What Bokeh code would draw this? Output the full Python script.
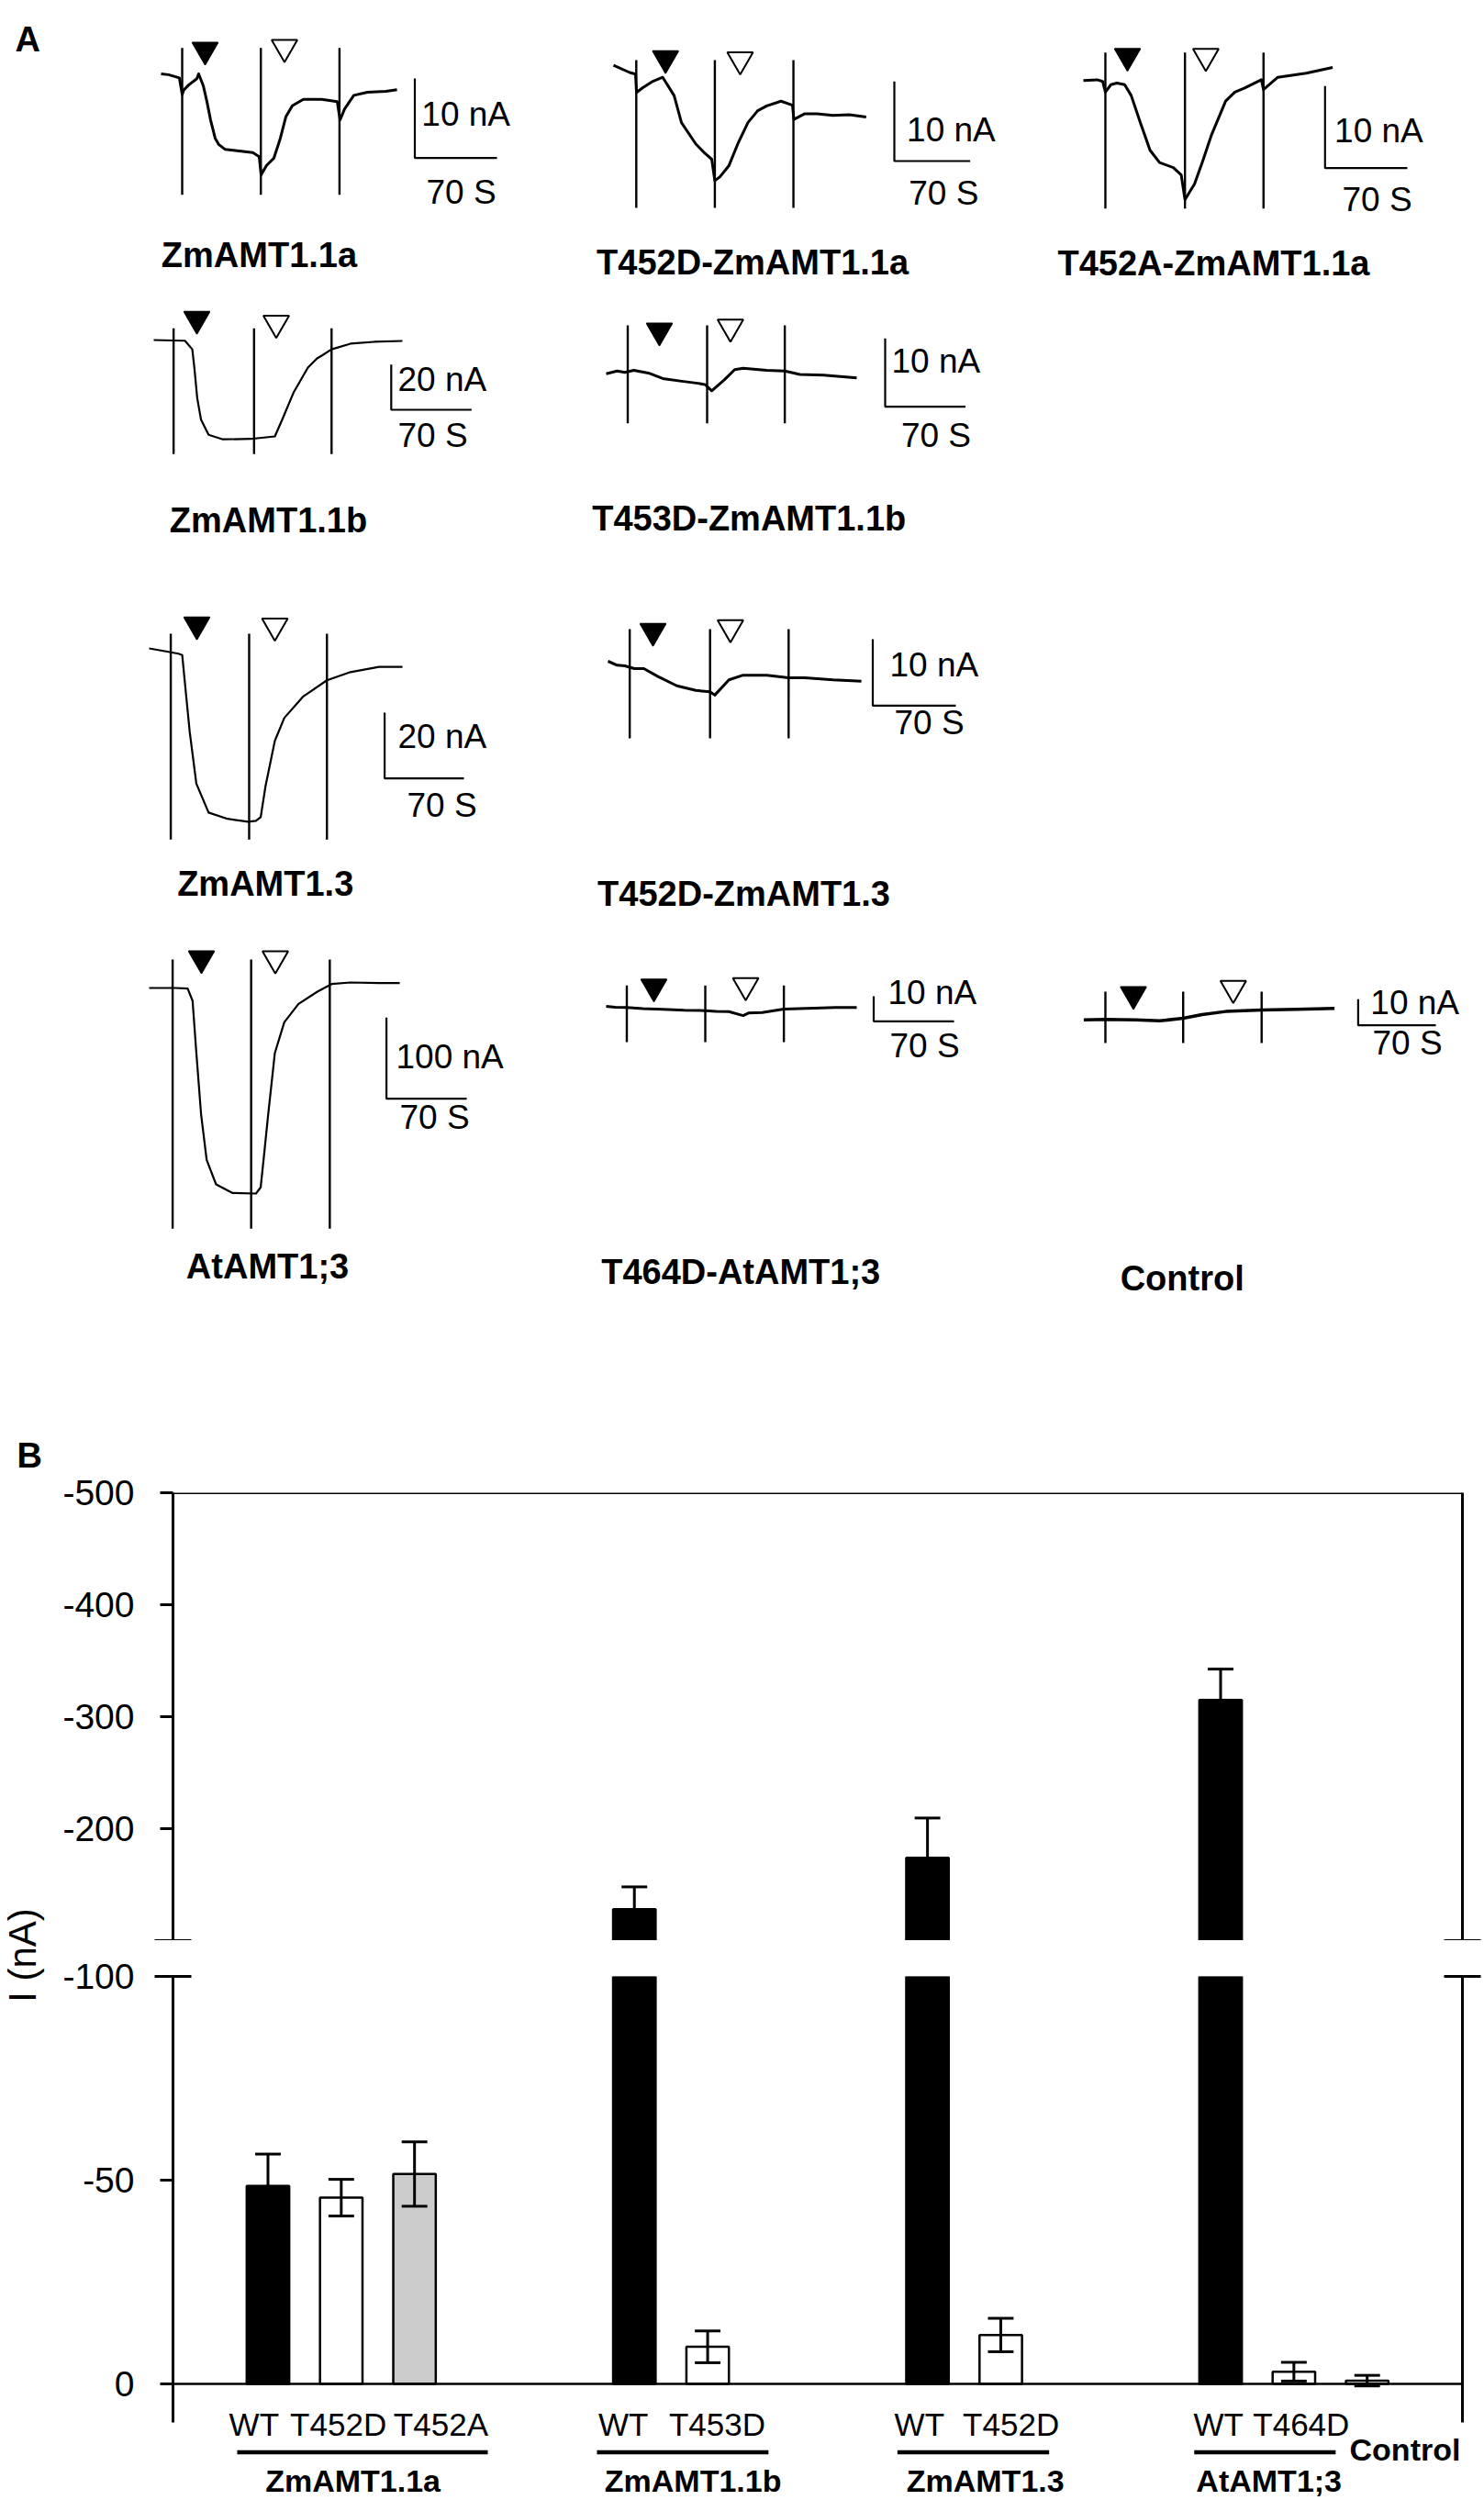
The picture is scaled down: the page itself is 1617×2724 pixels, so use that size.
import math
from bokeh.plotting import figure
from bokeh.layouts import column, row, Spacer
from bokeh.models import (Range1d, FixedTicker, LinearAxis, Span, ColumnDataSource,
                          CustomJSTickFormatter)
from bokeh.core.properties import value
from bokeh.embed import file_html
from bokeh.resources import INLINE

FONT = value("Liberation Sans")

# ---------------- Panel A : current recordings (time in s, current in nA) ----------------
TRACE_NAMES = ["ZmAMT1.1a", "T452D-ZmAMT1.1a", "T452A-ZmAMT1.1a",
               "ZmAMT1.1b", "T453D-ZmAMT1.1b",
               "ZmAMT1.3", "T452D-ZmAMT1.3",
               "AtAMT1;3", "T464D-AtAMT1;3", "Control"]
SCALE_NA = [10, 10, 10, 20, 10, 20, 10, 100, 10, 10]
SCALE_S = 70

ZM11A_T = [0, 6.3, 15.6, 18, 19.5, 23.5, 30.5, 32, 36, 39.1, 42.2, 46.1, 49.3, 54.7, 66.5, 78.2,
           83.6, 85.2, 89.9, 96.1, 101.6, 106.3, 111.8, 121.2, 136.8, 150.1, 152.5, 156.4,
           164.2, 175.9, 191.6, 201]
ZM11A_I = [0, -0.1, -0.5, -2.6, -2.0, -1.4, -0.6, 0, -1.5, -3.5, -5.8, -8.1, -8.9, -9.5, -9.7,
           -9.9, -10.4, -12.7, -11.5, -10.6, -8.1, -5.4, -4.0, -3.2, -3.2, -3.5, -5.8, -4.4,
           -2.7, -2.3, -2.2, -2.0]
ZM11A_EV = [18, 85, 152]

T452D11A_T = [0, 14.9, 20.3, 21.2, 27.1, 36.4, 45.4, 55.9, 62.7, 76, 84.7, 90.6, 93.5, 98.2,
              106.5, 115.2, 124, 133, 141.4, 154.5, 165.1, 166.4, 176.1, 188, 202.4, 217.6, 233.1]
T452D11A_I = [0, -0.9, -1.1, -3.4, -2.8, -2.0, -1.5, -3.8, -7.2, -9.9, -11.1, -11.8, -14.5, -14.0,
              -12.6, -9.7, -7.2, -5.7, -5.1, -4.5, -5.0, -6.8, -6.1, -6.1, -6.3, -6.2, -6.5]
T452D11A_EV = [21, 93.5, 166]

T452A11A_T = [0, 11.7, 16.4, 18.7, 23.4, 28.5, 35.1, 40.6, 48.4, 56.7, 64.8, 76.5, 83.2, 86.4,
              94.5, 101.5, 109, 121, 128.8, 137.2, 151.4, 153.2, 165.3, 189.5, 212]
T452A11A_I = [0, 0.1, -0.1, -1.4, -0.5, -0.3, -0.5, -1.8, -5.1, -8.5, -10.0, -10.6, -11.5, -14.5,
              -12.6, -9.8, -6.6, -2.5, -1.4, -0.9, 0.1, -1.1, 0.4, 0.9, 1.6]
T452A11A_EV = [18.7, 86.4, 153.2]

ZM11B_T = [0, 16.8, 27.2, 33.6, 35.4, 37.9, 41.2, 47.8, 60.2, 84.7, 105.5, 111.9, 122, 134.3,
           142.3, 146.7, 154.9, 171.4, 191.8, 216.6]
ZM11B_I = [0, -0.2, -0.3, -4.1, -12.2, -25.7, -35.2, -41.9, -43.9, -43.7, -42.6, -35.2, -23.0,
           -12.2, -8.1, -6.8, -4.1, -1.6, -0.8, -0.4]
ZM11B_EV = [17.3, 87.4, 154.9]

T453D11B_T = [0, 9.6, 16.3, 24, 36.8, 49.3, 65.8, 80, 86.4, 92, 103, 112, 119.4, 140, 155.7,
              168.8, 189.6, 218.4]
T453D11B_I = [0, 0.4, 0.2, 0.5, 0.1, -0.7, -1.1, -1.4, -1.6, -2.5, -0.9, 0.6, 0.8, 0.5, 0.4,
              -0.1, -0.2, -0.6]
T453D11B_EV = [18.8, 88, 155.7]

ZM13_T = [0, 14.9, 25.9, 29.2, 35.8, 41.7, 52.5, 69.2, 87.5, 94.3, 98.5, 102.7, 111, 119.4,
          136.1, 157, 177.8, 202.9, 223.7]
ZM13_I = [0, -0.9, -1.6, -2.0, -25.3, -41.1, -49.9, -51.8, -52.7, -52.4, -51.3, -42.0, -28.1,
          -21.1, -14.6, -9.7, -7.2, -5.6, -5.6]
ZM13_EV = [19.1, 88.3, 157]

T452D13_T = [0, 7.7, 14.2, 22.2, 30.2, 42.1, 58, 74, 86, 90, 101.9, 113.9, 133.8, 152.2, 165.7,
             189.6, 213.5]
T452D13_I = [0, -0.6, -0.7, -1.1, -1.1, -2.3, -3.7, -4.4, -4.6, -5.1, -2.8, -2.1, -2.1, -2.5,
             -2.5, -2.8, -3.0]
T452D13_EV = [18.3, 86, 152.2]

AT13_T = [0, 23, 33.6, 37.9, 41.2, 45.3, 50.2, 58.4, 72.5, 93.2, 97.3, 100.1, 103.9, 109.7,
          117.9, 130.3, 146.8, 159.2, 175.7, 200.5, 218.6]
AT13_I = [0, 0, -0.8, -15.8, -80, -155.3, -211.9, -242.1, -252.6, -253.4, -245.8, -208.1,
          -155.3, -80, -42.2, -19.6, -4.5, 4.9, 6.8, 6.0, 6.0]
AT13_EV = [20.5, 89, 157.6]

T464D13_T = [0, 8, 18, 32, 49.3, 68, 86.4, 96, 107, 119.4, 124, 136, 154.9, 168, 181.3, 200, 218.4]
T464D13_I = [0, -0.4, -0.5, -0.9, -1.2, -1.6, -1.7, -2.0, -2.1, -3.7, -2.7, -2.5, -1.1, -0.9,
             -0.7, -0.5, -0.5]
T464D13_EV = [18, 86.4, 154.9]

CTRL_T = [0, 19.5, 46.8, 68.3, 89.6, 106.6, 127.9, 160.3, 191.9, 226]
CTRL_I = [0, 0.2, 0, -0.4, 0.6, 2.0, 3.2, 3.8, 4.0, 4.4]
CTRL_EV = [19.5, 89.6, 160.3]

TRACES = [(ZM11A_T, ZM11A_I, ZM11A_EV), (T452D11A_T, T452D11A_I, T452D11A_EV),
          (T452A11A_T, T452A11A_I, T452A11A_EV), (ZM11B_T, ZM11B_I, ZM11B_EV),
          (T453D11B_T, T453D11B_I, T453D11B_EV), (ZM13_T, ZM13_I, ZM13_EV),
          (T452D13_T, T452D13_I, T452D13_EV), (AT13_T, AT13_I, AT13_EV),
          (T464D13_T, T464D13_I, T464D13_EV), (CTRL_T, CTRL_I, CTRL_EV)]

# ---------------- Panel B : mean currents (nA) ----------------
B_LABELS = ["WT", "T452D", "T452A", "WT", "T453D", "WT", "T452D", "WT", "T464D", "Control"]
B_VALUES = [-48.6, -45.7, -51.5, -128.0, -9.1, -174.0, -12.0, -315.0, -3.0, -0.8]
B_ERRORS = [7.8, 4.5, 7.9, 20.0, 3.9, 35.5, 4.1, 27.5, 2.3, 1.3]
B_GROUPS = ["ZmAMT1.1a", "ZmAMT1.1b", "ZmAMT1.3", "AtAMT1;3"]
UPPER_TICKS = [-500, -400, -300, -200]
LOWER_TICKS = [-100, -50, 0]
AXIS_BREAK = -100

# ================= layout (page pixels) =================
BASE_SHIFT = 0.34          # svg text sits this many em below the requested baseline
COLX = [0, 605, 1115]
COLW = [605, 510, 502]
ROWY = [0, 325, 605, 1000]
ROWH = [325, 280, 395, 545]
CELLS = [(0, 0), (0, 1), (0, 2), (1, 0), (1, 1), (2, 0), (2, 1), (3, 0), (3, 1), (3, 2)]
LINE_W = [3, 3, 3, 2.2, 3, 2.2, 3, 2.2, 3, 3.5]

LAY = [
    dict(o=(175, 80), pps=1.279, ppn=8.67, ev=(51.7, 211.7), tf=(223, 53.9), to=(309.5, 51),
         corner=(451.5, 171.7), na=(458.8, 136.7), s=(464, 221.7), lab=(282, 290)),
    dict(o=(668, 70.7), pps=1.181, ppn=8.67, ev=(65, 226), tf=(724.7, 63.2), to=(806, 64.6),
         corner=(974, 175), na=(987.6, 153.3), s=(989.7, 222.7), lab=(819.6, 298.3)),
    dict(o=(1180, 87.3), pps=1.281, ppn=8.94, ev=(56.7, 226.7), tf=(1228, 60.7), to=(1313.4, 60.9),
         corner=(1443.3, 182.7), na=(1453.6, 155), s=(1462, 230), lab=(1322, 299.3)),
    dict(o=(167, 370), pps=1.251, ppn=2.465, ev=(357.3, 494.3), tf=(214, 347.2), to=(300.5, 351.6),
         corner=(425.8, 446), na=(433, 426), s=(433, 486.7), lab=(292, 579.3)),
    dict(o=(660, 406.7), pps=1.25, ppn=7.44, ev=(354, 460.7), tf=(718, 359.9), to=(795.4, 355.8),
         corner=(964, 442.7), na=(971, 406), s=(981.4, 486.7), lab=(815.7, 577.3)),
    dict(o=(162, 706), pps=1.234, ppn=3.585, ev=(690, 914.3), tf=(214, 680.1), to=(299, 681.6),
         corner=(418.6, 847.7), na=(433, 815), s=(443, 889.3), lab=(288.7, 975)),
    dict(o=(662, 720), pps=1.293, ppn=7.23, ev=(685, 804), tf=(711, 687.2), to=(795.4, 683.3),
         corner=(950.5, 768.3), na=(969, 736.7), s=(974, 800), lab=(810, 986)),
    dict(o=(162, 1076), pps=1.249, ppn=0.884, ev=(1045, 1338.3), tf=(219, 1043.9), to=(299.5, 1044.2),
         corner=(420.6, 1196.7), na=(431, 1163.3), s=(435, 1229.3), lab=(291, 1392.7)),
    dict(o=(660, 1096), pps=1.25, ppn=2.73, ev=(1073.3, 1135), tf=(712, 1074.6), to=(812, 1073.3),
         corner=(951.5, 1112.3), na=(967, 1093.3), s=(969, 1151.7), lab=(806.7, 1398.3)),
    dict(o=(1180.4, 1110.7), pps=1.209, ppn=2.84, ev=(1080, 1136), tf=(1234.5, 1082.9), to=(1343.3, 1076.4),
         corner=(1479.4, 1116.7), na=(1492.8, 1105), s=(1495, 1148.3), lab=(1287.7, 1405)),
]


def make_trace(k):
    t, cur, ev = TRACES[k]
    L = LAY[k]
    r, c = CELLS[k]
    left, top, w, h = COLX[c], ROWY[r], COLW[c], ROWH[r]
    x0, y0 = L["o"]
    pps, ppn = L["pps"], L["ppn"]

    def tx(px):
        return (px - x0) / pps

    def iy(py):
        return -(py - y0) / ppn

    def txt(pos, s, fs, bold=False, align="left"):
        p.text(x=[tx(pos[0])], y=[iy(pos[1] - BASE_SHIFT * fs)], text=[s], text_font=FONT,
               text_font_size=f"{fs}px", text_font_style="bold" if bold else "normal",
               text_baseline="alphabetic", text_align=align, text_color="black")

    p = figure(width=w, height=h, x_range=Range1d(tx(left), tx(left + w)),
               y_range=Range1d(iy(top + h), iy(top)), x_axis_location=None,
               y_axis_location=None, min_border=0, toolbar_location=None,
               output_backend="svg", outline_line_color=None)
    p.grid.visible = False
    n = len(ev)
    p.segment(x0=ev, y0=[iy(L["ev"][1])] * n, x1=ev, y1=[iy(L["ev"][0])] * n,
              line_color="black", line_width=2.4)
    p.line(t, cur, line_color="black", line_width=LINE_W[k], line_join="round")
    p.scatter([tx(L["tf"][0])], [iy(L["tf"][1])], marker="inverted_triangle", size=28,
              fill_color="black", line_color="black", line_width=1.5)
    p.scatter([tx(L["to"][0])], [iy(L["to"][1])], marker="inverted_triangle", size=28,
              fill_color="white", line_color="black", line_width=2)
    ct, ci = tx(L["corner"][0]), iy(L["corner"][1])
    p.line([ct, ct, ct + SCALE_S], [ci + SCALE_NA[k], ci, ci], line_color="black", line_width=2.2)
    txt(L["na"], f"{SCALE_NA[k]} nA", 37)
    txt(L["s"], f"{SCALE_S} S", 37)
    txt(L["lab"], TRACE_NAMES[k], 38, bold=True, align="center")
    if k == 0:
        txt((16, 55), "A", 38, bold=True)
    return p


figs = [make_trace(k) for k in range(10)]
rowA1 = row(figs[0], figs[1], figs[2])
rowA2 = row(figs[3], figs[4], Spacer(width=COLW[2], height=ROWH[1]))
rowA3 = row(figs[5], figs[6], Spacer(width=COLW[2], height=ROWH[2]))
rowA4 = row(figs[7], figs[8], figs[9])

# ---------------- Panel B ----------------
SLOTS = [0, 1, 2, 5, 6, 9, 10, 13, 14, 15]
XR = (-1.296, 16.30)
BAR_W = 0.58
CAP = 0.175
LOWER_AXIS_END = 9.46
LOW_PX = 4.44              # px per nA in the lower part
ZERO_PX = 2597             # page y of 0 nA
FMT = CustomJSTickFormatter(code="return String(tick)")


def fill_of(lab):
    return "black" if lab == "WT" else ("#cccccc" if lab.endswith("A") else "white")


def bar_source(idx, bottom):
    return ColumnDataSource(dict(
        x=[SLOTS[i] for i in idx], top=[B_VALUES[i] for i in idx],
        bottom=[bottom] * len(idx), fill=[fill_of(B_LABELS[i]) for i in idx],
        lo=[B_VALUES[i] + B_ERRORS[i] for i in idx], hi=[B_VALUES[i] - B_ERRORS[i] for i in idx],
        cl=[SLOTS[i] - CAP for i in idx], cr=[SLOTS[i] + CAP for i in idx]))


def draw_bars(p, src):
    p.vbar(x="x", top="top", bottom="bottom", width=BAR_W, fill_color="fill",
           line_color="black", line_width=2.5, source=src)
    p.segment(x0="x", y0="lo", x1="x", y1="hi", line_color="black", line_width=3, source=src)
    p.segment(x0="cl", y0="hi", x1="cr", y1="hi", line_color="black", line_width=3, source=src)
    p.segment(x0="cl", y0="lo", x1="cr", y1="lo", line_color="black", line_width=3, source=src)


def style_left_axis(ax, ticks, bounds=None):
    ax.ticker = FixedTicker(ticks=ticks, minor_ticks=[AXIS_BREAK])
    ax.formatter = FMT
    ax.axis_line_width = 3
    ax.major_tick_line_width = 3
    ax.major_tick_out = 14
    ax.major_tick_in = 0
    ax.minor_tick_in = 20
    ax.minor_tick_out = 20
    ax.minor_tick_line_width = 3
    ax.major_label_text_font = "Liberation Sans"
    ax.major_label_text_font_size = "39px"
    ax.major_label_text_color = "black"
    ax.major_label_standoff = 22
    if bounds is not None:
        ax.bounds = bounds


def right_axis(bounds=None):
    ax = LinearAxis(ticker=FixedTicker(ticks=[], minor_ticks=[AXIS_BREAK]),
                    axis_line_width=3, major_tick_in=0, major_tick_out=0,
                    minor_tick_in=20, minor_tick_out=20, minor_tick_line_width=3,
                    major_label_text_font_size="0px", major_label_standoff=0)
    if bounds is not None:
        ax.bounds = bounds
    return ax


up = figure(width=1561, height=569, x_range=Range1d(*XR), y_range=Range1d(AXIS_BREAK, -500),
            x_axis_location=None, min_border_left=132, min_border_right=24,
            min_border_top=81, min_border_bottom=0, toolbar_location=None,
            output_backend="svg", outline_line_color=None)
up.grid.visible = False
style_left_axis(up.yaxis[0], UPPER_TICKS)
up.add_layout(right_axis(), "right")
up.add_layout(Span(location=-500, dimension="width", line_color="black", line_width=3))
big = [i for i, v in enumerate(B_VALUES) if v < AXIS_BREAK]
draw_bars(up, bar_source(big, AXIS_BREAK))

LOW_BOTTOM = (2724 - ZERO_PX) / LOW_PX
lo = figure(width=1561, height=610, x_range=Range1d(*XR), y_range=Range1d(LOW_BOTTOM, AXIS_BREAK),
            x_axis_location=None, min_border_left=132, min_border_right=24,
            min_border_top=39, min_border_bottom=0, toolbar_location=None,
            output_backend="svg", outline_line_color=None)
lo.grid.visible = False
style_left_axis(lo.yaxis[0], LOWER_TICKS, bounds=(AXIS_BREAK, LOWER_AXIS_END))
lo.add_layout(right_axis(bounds=(AXIS_BREAK, LOWER_AXIS_END)), "right")
draw_bars(lo, bar_source(list(range(len(B_VALUES))), 0))
lo.segment(x0=[XR[0]], y0=[0], x1=[XR[1]], y1=[0], line_color="black", line_width=2.5)


def ly(page_baseline, fs):
    return (page_baseline - BASE_SHIFT * fs - ZERO_PX) / LOW_PX


LAB_DX = [-0.19, -0.04, 0.36, -0.15, 0.13, -0.11, 0.14, -0.03, 0.10]
lo.text(x=[SLOTS[i] + LAB_DX[i] for i in range(9)], y=[ly(2653, 35)] * 9, text=B_LABELS[:9],
        text_font=FONT, text_font_size="35px", text_align="center",
        text_baseline="alphabetic", text_color="black")
UL = [(-0.42, 3.0), (4.49, 6.83), (8.59, 10.66), (12.64, 14.57)]
lo.segment(x0=[a for a, b in UL], y0=[(2671.5 - ZERO_PX) / LOW_PX] * 4, x1=[b for a, b in UL],
           y1=[(2671.5 - ZERO_PX) / LOW_PX] * 4, line_color="black", line_width=4.3)
lo.text(x=[1.16, 5.8, 9.79, 13.66], y=[ly(2714, 34)] * 4, text=B_GROUPS, text_font=FONT,
        text_font_style="bold", text_font_size="34px", text_align="center",
        text_baseline="alphabetic", text_color="black")
lo.text(x=[SLOTS[9] - 0.24], y=[ly(2680, 34)], text=[B_LABELS[9]], text_font=FONT,
        text_font_style="bold", text_font_size="34px", text_align="left",
        text_baseline="alphabetic", text_color="black")

ylab = figure(width=56, height=1179, x_range=Range1d(0, 56), y_range=Range1d(-2724, -1545),
              x_axis_location=None, y_axis_location=None, min_border=0,
              toolbar_location=None, output_backend="svg", outline_line_color=None)
ylab.grid.visible = False
ylab.text(x=[18], y=[-(1598 - BASE_SHIFT * 38)], text=["B"], text_font=FONT,
          text_font_style="bold", text_font_size="38px", text_baseline="alphabetic",
          text_align="left")
ylab.text(x=[38 - BASE_SHIFT * 42], y=[-2130], text=["I (nA)"], angle=math.pi / 2,
          text_font=FONT, text_font_size="42px", text_baseline="alphabetic", text_align="center")

panelB = row(ylab, column(up, lo))
layout = column(rowA1, rowA2, rowA3, rowA4, panelB)

open("out.html", "w").write(file_html(layout, INLINE, title="AMT currents"))
